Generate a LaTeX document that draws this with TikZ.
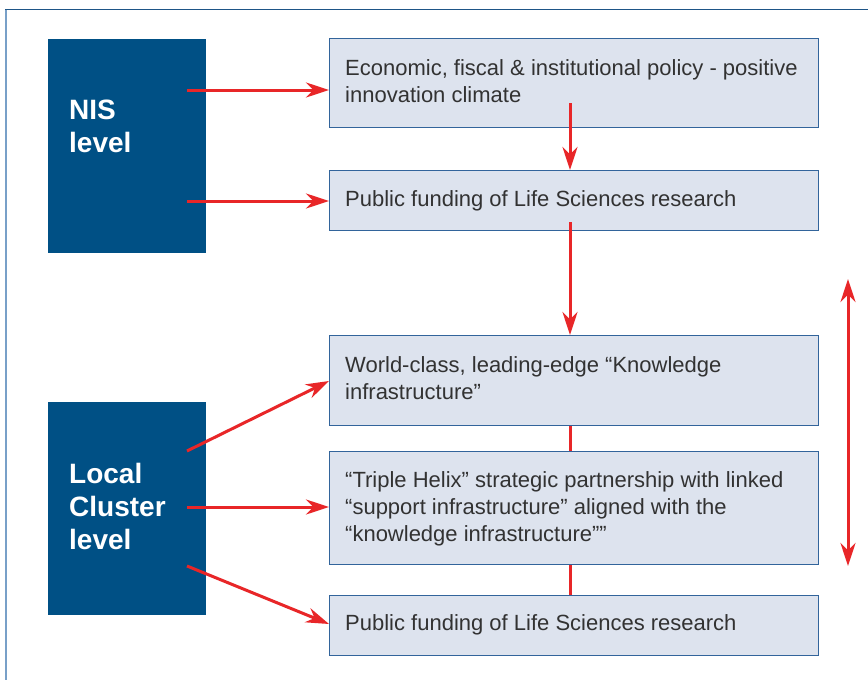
\documentclass[tikz,border=0pt]{standalone}
\usepackage{fontspec}
\setmainfont{Liberation Sans}
\usetikzlibrary{arrows.meta}
\definecolor{navy}{RGB}{0,80,133}
\definecolor{boxfill}{RGB}{221,227,238}
\definecolor{boxline}{RGB}{50,100,155}
\definecolor{arrred}{RGB}{232,38,40}
\definecolor{txt}{RGB}{50,50,50}
\definecolor{frametop}{RGB}{30,85,135}
\definecolor{frameleft}{RGB}{120,160,200}
\begin{document}
\begin{tikzpicture}[x=1pt,y=-1pt,
  level/.style={fill=navy,draw=none,minimum width=158pt,anchor=north west,inner sep=0pt},
  levtext/.style={text=white,font=\fontsize{28}{33}\selectfont\bfseries,align=left,anchor=north west,inner sep=0pt},
  stage/.style={fill=boxfill,draw=boxline,line width=1.2pt,minimum width=489pt,anchor=north west,inner sep=0pt},
  stagetext/.style={text=txt,font=\fontsize{22}{27}\selectfont,align=left,anchor=north west,inner sep=0pt},
  link/.style={draw=arrred,line width=3pt,-{Stealth[length=23pt,width=15pt]}},
  plain/.style={draw=arrred,line width=3pt}]
\useasboundingbox (0,0) rectangle (868,680);
\fill[white] (0,0) rectangle (868,680);
\draw[frametop,line width=1.2pt] (5,9.5) -- (868,9.5);
\draw[frameleft,line width=1.5pt] (6,9.5) -- (6,680);
% level boxes
\node[level,minimum height=214pt] (nis) at (48,39) {};
\node[levtext] (nist) at (69,100) {NIS\\level};
\node[level,minimum height=213pt] (loc) at (48,402) {};
\node[levtext] (loct) at (69,463) {Local\\Cluster\\level};
% stage boxes
\node[stage,minimum height=89pt] (b1) at (329,38) {};
\node[stagetext] (t1) at (345,59) {Economic, fiscal \& institutional policy - positive\\innovation climate};
\node[stage,minimum height=60pt] (b2) at (329,170) {};
\node[stagetext] (t2) at (345,190) {Public funding of Life Sciences research};
\node[stage,minimum height=90pt] (b3) at (329,335) {};
\node[stagetext] (t3) at (345,356) {World-class, leading-edge “Knowledge\\infrastructure”};
\node[stage,minimum height=113pt] (b4) at (329,451) {};
\node[stagetext] (t4) at (345,471) {“Triple Helix” strategic partnership with linked\\“support infrastructure” aligned with the\\“knowledge infrastructure””};
\node[stage,minimum height=60pt] (b5) at (329,595) {};
\node[stagetext] (t5) at (345,614) {Public funding of Life Sciences research};
% anchors for connector ends
\coordinate (n1) at (187,90);
\coordinate (n2) at (187,201);
\coordinate (l1) at (187,451);
\coordinate (l2) at (187,507);
\coordinate (l3) at (187,566);
\coordinate (d1) at (570,103);
\coordinate (d2) at (570,222);
\coordinate (up) at (848,279);
\coordinate (dn) at (848,566);
% connectors
\draw[link] (n1) -- (b1.west |- n1);
\draw[link] (n2) -- (b2.west |- n2);
\draw[link] (d1) -- (d1 |- b2.north);
\draw[link] (d2) -- (d2 |- b3.north);
\draw[plain] (d2 |- b3.south) -- (d2 |- b4.north);
\draw[plain] (d2 |- b4.south) -- (d2 |- b5.north);
\draw[link] (l1) -- (329,381);
\draw[link] (l2) -- (b4.west |- l2);
\draw[link] (l3) -- (329,624);
\draw[draw=arrred,line width=3pt,{Stealth[length=23pt,width=15pt]}-{Stealth[length=23pt,width=15pt]}] (up) -- (dn);
\end{tikzpicture}
\end{document}
